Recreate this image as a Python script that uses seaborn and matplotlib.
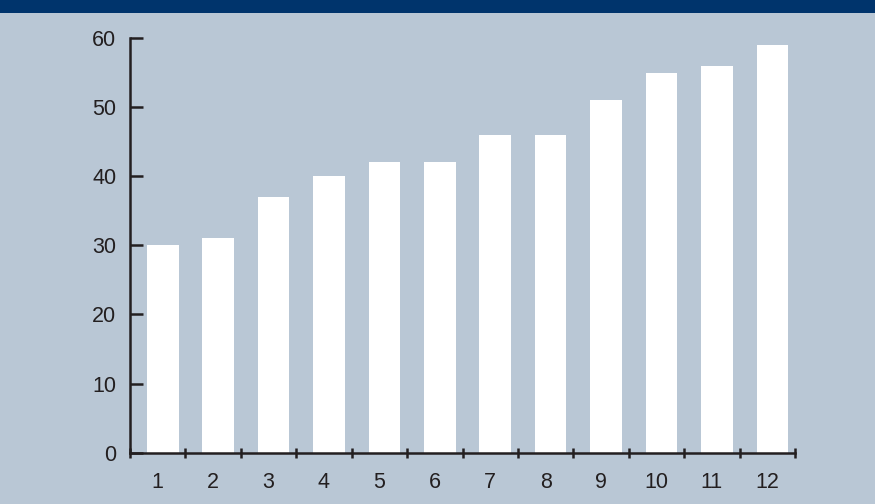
import matplotlib
matplotlib.use("Agg")
import matplotlib.pyplot as plt
import seaborn as sns
import pandas as pd
from matplotlib.patches import Rectangle

categories = ["1", "2", "3", "4", "5", "6", "7", "8", "9", "10", "11", "12"]
values = [30, 31, 37, 40, 42, 42, 46, 46, 51, 55, 56, 59]
yticks = [0, 10, 20, 30, 40, 50, 60]

bg = "#b9c7d5"
band = "#00346c"
ink = "#231f20"

sns.set_style("white")
plt.rcParams["font.family"] = ["Liberation Sans", "DejaVu Sans"]

fig = plt.figure(figsize=(8.75, 5.04), dpi=100, facecolor=bg)
ax = fig.add_axes([0.1486, 0.1018, 0.76, 0.8228])
ax.set_facecolor(bg)

df = pd.DataFrame({"cat": categories, "val": values})
sns.barplot(data=df, x="cat", y="val", order=categories, color="white",
            saturation=1, width=0.57, ax=ax, edgecolor="none", linewidth=0)
for p in ax.patches:
    p.set_x(p.get_x() + 0.09)

ax.set_xlim(-0.5, len(categories) - 0.5)
ax.set_ylim(0, 60)
ax.set_yticks(yticks)
ax.set_yticklabels([str(t) for t in yticks])
ax.set_xticks(range(len(categories)))
ax.set_xticklabels(categories)
ax.set_xlabel("")
ax.set_ylabel("")

for s in ["top", "right"]:
    ax.spines[s].set_visible(False)
for s in ["left", "bottom"]:
    ax.spines[s].set_color(ink)
    ax.spines[s].set_linewidth(1.8)

ax.tick_params(axis="y", direction="in", length=9.5, width=1.8, color=ink,
               labelsize=15.5, labelcolor=ink, pad=10, left=True)
ax.tick_params(axis="x", which="major", length=0, labelsize=15.5, labelcolor=ink, pad=14)
ax.set_xticks([i - 0.5 for i in range(len(categories) + 1)], minor=True)
ax.tick_params(axis="x", which="minor", direction="inout", length=7, width=1.8,
               color=ink, bottom=True)

fig.add_artist(Rectangle((0, 1 - 13 / 504), 1, 13 / 504, transform=fig.transFigure,
                         facecolor=band, edgecolor="none"))

fig.savefig("out.png", dpi=100, facecolor=bg)
